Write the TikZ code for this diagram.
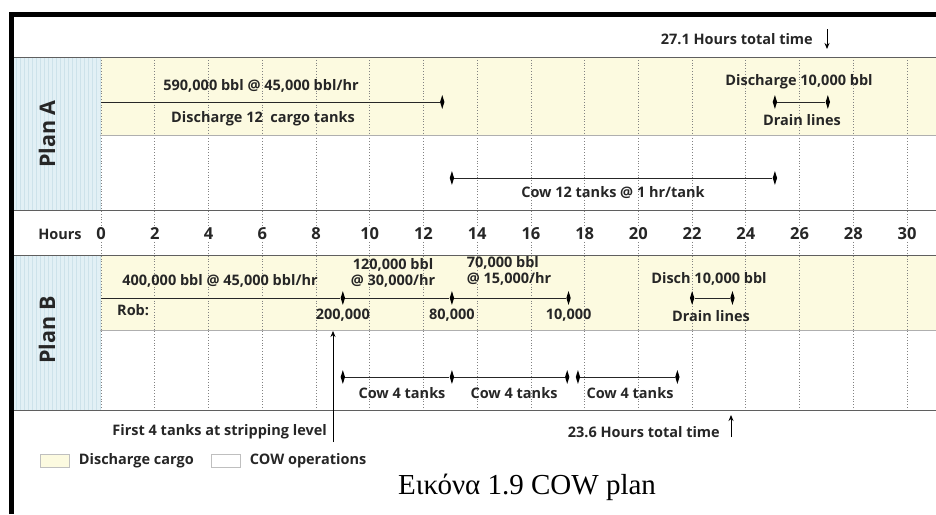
\documentclass[tikz,border=0pt]{standalone}
\usepackage{xcolor}
\usepackage{fontspec}
\setmainfont{Open Sans}
\newfontfamily\captionfont{Liberation Serif}
\usepackage{tikz}
\usetikzlibrary{shapes.geometric, arrows.meta, positioning}
\definecolor{cargocolor}{RGB}{252, 250, 224}
\definecolor{plancolor}{RGB}{226, 240, 245}
\definecolor{plangrid}{RGB}{205, 226, 234}
\definecolor{gridcolor}{RGB}{130, 130, 130}
\definecolor{rulecolor}{RGB}{95, 95, 95}
\tikzstyle{tick} = [diamond, fill=black, minimum width=4.5pt, minimum height=14pt, inner sep=0pt]
\tikzstyle{bar} = [draw=black!85, line width=0.9pt]
\tikzstyle{lbl} = [font=\bfseries\fontsize{14.5}{16}\selectfont, inner sep=1pt, text=black!85]
\tikzstyle{hrnum} = [font=\bfseries\fontsize{16.5}{18}\selectfont, fill=white, inner sep=1pt, text=black!85]
\tikzstyle{plan} = [rotate=90, font=\bfseries\fontsize{21.5}{23}\selectfont, text=black!85]
\tikzstyle{key} = [draw=black!25, minimum width=29pt, minimum height=13pt, inner sep=0pt]
\tikzstyle{pointer} = [-{Stealth[length=6pt, width=5pt]}, line width=0.9pt]
\newcommand{\hx}[1]{101+26.87*#1}

\begin{document}
\begin{tikzpicture}[x=1pt, y=-1pt]
    \useasboundingbox (0,0) rectangle (936,514);
    % bands
    \fill[cargocolor] (100,57) rectangle (936,135);
    \fill[cargocolor] (100,255) rectangle (936,330);
    \fill[plancolor] (14,57) rectangle (100,210);
    \fill[plancolor] (14,255) rectangle (100,410);
    \draw[plangrid, line width=0.3pt, step=4] (14,57) grid (100,210);
    \draw[plangrid, line width=0.3pt, step=4] (14,255) grid (100,410);
    % hour grid
    \foreach \h in {0,2,...,30}
        \draw[gridcolor, dotted, line width=0.8pt] ({\hx{\h}},57) -- ({\hx{\h}},410);
    \foreach \y in {57,210,255,410}
        \draw[rulecolor, line width=0.9pt] (14,\y) -- (936,\y);
    \foreach \y in {135,330}
        \draw[rulecolor!50, line width=0.5pt] (100,\y) -- (936,\y);
    % frame
    \draw[line width=5pt] (11.5,514) -- (11.5,14) -- (936,14);

    \node[plan] (planA) at (47,134) {Plan A};
    \node[plan] (planB) at (47,330) {Plan B};
    \node[font=\bfseries\fontsize{14.5}{16}\selectfont, text=black!85] (hours) at (60,234) {Hours};
    \foreach \h in {0,2,...,30}
        \node[hrnum] (h\h) at ({\hx{\h}},234) {\h};

    % Plan A
    \coordinate (a0) at ({\hx{0}},102);
    \node[tick] (a1) at ({\hx{12.7}},102) {};
    \draw[bar] (a0) -- (a1);
    \node[lbl] (aqty) at (261,86) {590,000 bbl @ 45,000 bbl/hr};
    \node[lbl] (atxt) at (263,119) {Discharge 12\ \ cargo tanks};
    \node[tick] (a2) at ({\hx{25.08}},102) {};
    \node[tick] (a3) at ({\hx{27.05}},102) {};
    \draw[bar] (a2) -- (a3);
    \node[lbl] (adis) at (799,82) {Discharge 10,000 bbl};
    \node[lbl] (adrn) at (802,120) {Drain lines};
    \node[tick] (c1) at ({\hx{13.06}},178) {};
    \node[tick] (c2) at ({\hx{25.08}},178) {};
    \draw[bar] (c1) -- (c2);
    \node[lbl] (acow) at (613,193) {Cow 12 tanks @ 1 hr/tank};
    \node[lbl, anchor=east] (atot) at (814,39) {27.1 Hours total time};
    \coordinate (atop) at (827,29);
    \coordinate (aend) at (827,49);
    \draw[pointer] (atop) -- (aend);

    % Plan B
    \coordinate (b0) at ({\hx{0}},298);
    \node[tick] (b1) at ({\hx{9}},298) {};
    \node[tick] (b2) at ({\hx{13.06}},298) {};
    \node[tick] (b3) at ({\hx{17.4}},298) {};
    \draw[bar] (b0) -- (b1) -- (b2) -- (b3);
    \node[lbl] (bqty) at (220,281) {400,000 bbl @ 45,000 bbl/hr};
    \node[lbl, align=center] (bq2) at (393,273) {120,000 bbl\\@ 30,000/hr};
    \node[lbl, align=left] (bq3) at (509,271) {70,000 bbl\\@ 15,000/hr};
    \node[lbl, anchor=west] (rob) at (116,310) {Rob:};
    \node[lbl, below=3pt of b1] (r1) {200,000};
    \node[lbl, below=3pt of b2] (r2) {80,000};
    \node[lbl, below=3pt of b3] (r3) {10,000};
    \node[tick] (b4) at ({\hx{22}},298) {};
    \node[tick] (b5) at ({\hx{23.5}},298) {};
    \draw[bar] (b4) -- (b5);
    \node[lbl] (bdis) at (709,279) {Disch 10,000 bbl};
    \node[lbl] (bdrn) at (711,316) {Drain lines};
    \node[tick] (d1) at ({\hx{9}},377) {};
    \node[tick] (d2) at ({\hx{13.06}},377) {};
    \node[tick] (d3) at ({\hx{17.35}},377) {};
    \node[tick] (d4) at ({\hx{17.75}},377) {};
    \node[tick] (d5) at ({\hx{21.45}},377) {};
    \draw[bar] (d1) -- (d2) -- (d3);
    \draw[bar] (d4) -- (d5);
    \node[lbl] (cow1) at (402,393) {Cow 4 tanks};
    \node[lbl] (cow2) at (514,393) {Cow 4 tanks};
    \node[lbl] (cow3) at (630,393) {Cow 4 tanks};
    \coordinate (sbot) at (333,442);
    \coordinate (stop) at (333,331);
    \draw[pointer, line width=0.7pt] (sbot) -- (stop);
    \node[lbl, anchor=east] (strip) at (328,432) {First 4 tanks at stripping level};
    \node[lbl, anchor=east] (btot) at (721,432) {23.6 Hours total time};
    \coordinate (bbot) at (731,437);
    \coordinate (btop) at (731,415);
    \draw[pointer] (bbot) -- (btop);

    % key
    \node[key, fill=cargocolor] (keyA) at (55,461) {};
    \node[lbl, right=8pt of keyA] (keyAtxt) {Discharge cargo};
    \node[key, fill=white] (keyB) at (226,461) {};
    \node[lbl, right=8pt of keyB] (keyBtxt) {COW operations};

    \node[font=\captionfont\fontsize{29}{31}\selectfont] (caption) at (527,487) {Εικόνα 1.9 COW plan};
\end{tikzpicture}
\end{document}
